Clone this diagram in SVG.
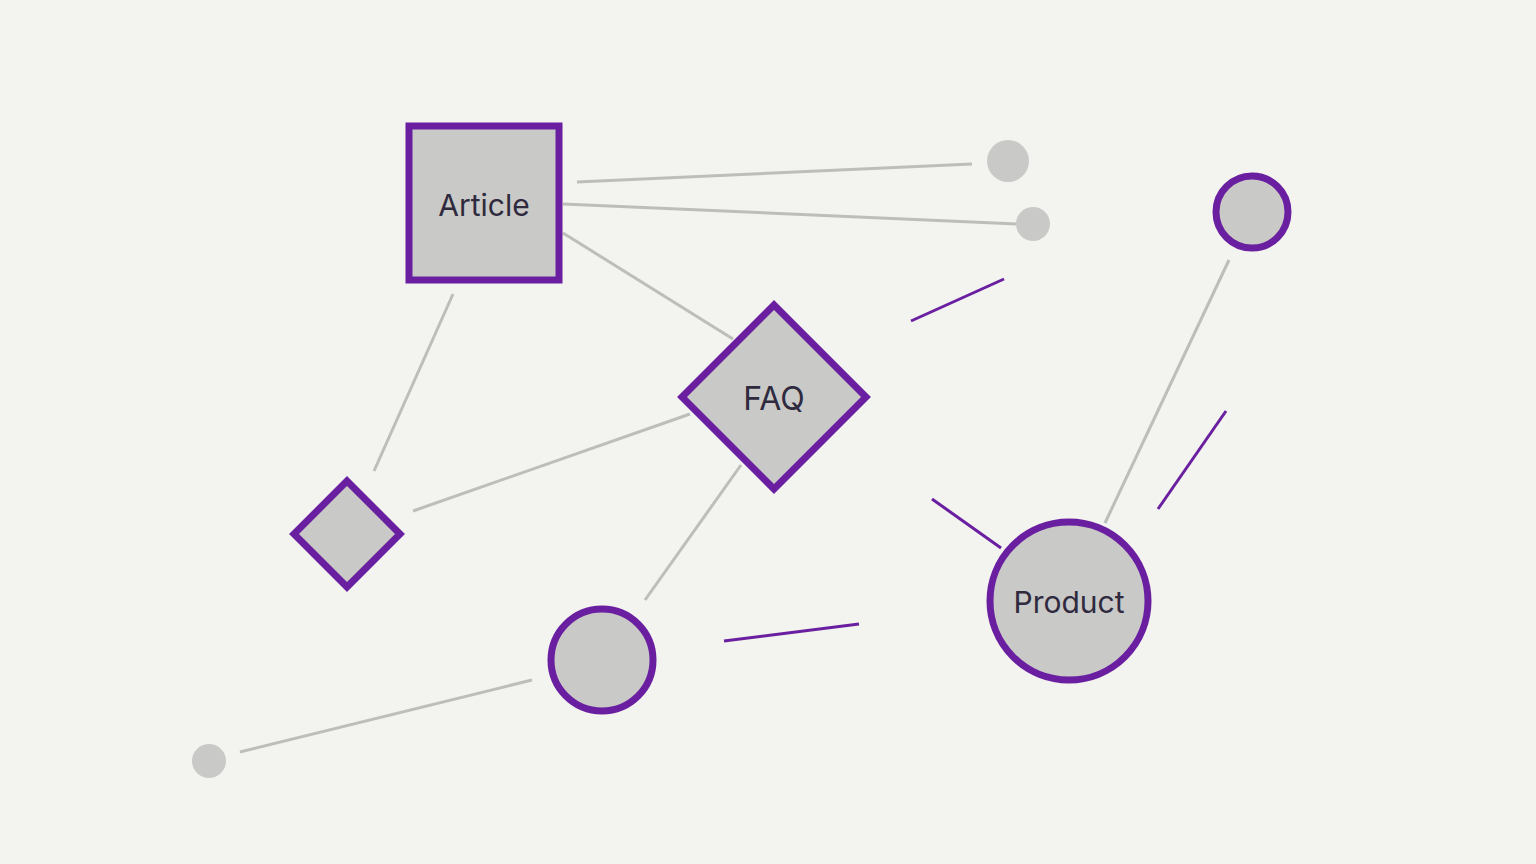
<svg xmlns="http://www.w3.org/2000/svg" width="1536" height="864" viewBox="0 0 1536 864">
<style>
.n{fill:#c9c9c7;stroke:#6a1fa0;stroke-width:7}
.d{fill:#c9c9c7}
.g{stroke:#bdbdbb;stroke-width:3;fill:none}
.p{stroke:#6a1fa0;stroke-width:3;fill:none}
text{font-family:Inter,"Liberation Sans",sans-serif;fill:#2f2a3e;text-anchor:middle;dominant-baseline:central}
</style>
<rect width="1536" height="864" fill="#f3f3ef"/>
<g id="connectors">
<line class="g" x1="577" y1="182" x2="972" y2="164"/>
<line class="g" x1="563" y1="204" x2="1017" y2="224"/>
<line class="g" x1="563" y1="233" x2="733" y2="339"/>
<line class="g" x1="453" y1="294" x2="374" y2="471"/>
<line class="g" x1="413" y1="511" x2="690" y2="414"/>
<line class="g" x1="741" y1="465" x2="645" y2="600"/>
<line class="g" x1="532" y1="680" x2="240" y2="752"/>
<line class="g" x1="1229" y1="260" x2="1105" y2="523"/>
<line class="p" x1="911" y1="321" x2="1004" y2="279"/>
<line class="p" x1="1226" y1="411" x2="1158" y2="509"/>
<line class="p" x1="932" y1="499" x2="1001" y2="548"/>
<line class="p" x1="724" y1="641" x2="859" y2="624"/>
</g>
<g id="article"><rect class="n" x="409" y="126" width="150" height="154"/><text x="484" y="205" font-size="30">Article</text></g>
<g id="faq"><polygon class="n" points="774,305 866,397 774,489 682,397"/><text x="774" y="398" font-size="32">FAQ</text></g>
<g id="diamond2"><polygon class="n" points="347,481 400,534 347,587 294,534"/></g>
<g id="circle1"><circle class="n" cx="602" cy="660" r="51"/></g>
<g id="product"><circle class="n" cx="1069" cy="601" r="79"/><text x="1069" y="602" font-size="30">Product</text></g>
<g id="circle2"><circle class="n" cx="1252" cy="212" r="36"/></g>
<g id="dot1"><circle class="d" cx="1008" cy="161" r="21"/></g>
<g id="dot2"><circle class="d" cx="1033" cy="224" r="17"/></g>
<g id="dot3"><circle class="d" cx="209" cy="761" r="17"/></g>
</svg>
